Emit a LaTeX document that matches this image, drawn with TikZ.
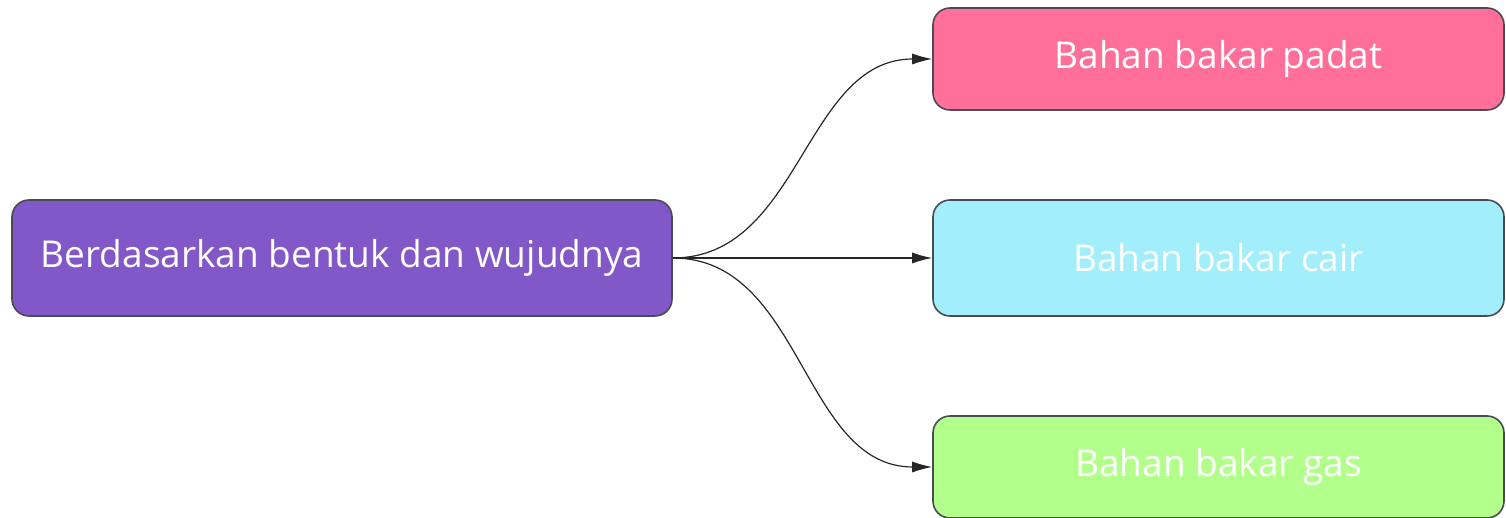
\documentclass[tikz,border=0pt]{standalone}
\usepackage{fontspec}
\setmainfont{Open Sans}
\usepackage{xcolor}
\usetikzlibrary{arrows.meta,positioning}
\definecolor{purplebox}{HTML}{8257C8}
\definecolor{pinkbox}{HTML}{FF6F9A}
\definecolor{bluebox}{HTML}{A2EEFB}
\definecolor{greenbox}{HTML}{B3FF8C}
\definecolor{edgegray}{HTML}{4A4A55}

\begin{document}
\begin{tikzpicture}[x=1pt,y=1pt,
    box/.style={draw=edgegray,line width=1.6pt,rounded corners=17pt,
      text=white,font=\fontsize{37}{44}\selectfont,inner sep=0pt},
    link/.style={-{Latex[length=20pt,width=11pt]},line width=1.2pt,black!85}]
    \useasboundingbox (0,0) rectangle (1506,518);
    \node[box,fill=purplebox,minimum width=660,minimum height=116] (kind) at (342, 260) {Berdasarkan bentuk dan wujudnya};
    \node[box,fill=pinkbox,minimum width=571,minimum height=102] (solid) at (1218.5, 459) {Bahan bakar padat};
    \node[box,fill=bluebox,minimum width=571,minimum height=116] (liquid) at (1218.5, 260) {Bahan bakar cair};
    \node[box,fill=greenbox,minimum width=571,minimum height=102] (gas) at (1218.5, 51) {Bahan bakar gas};
    \draw[link] (kind.east) to[out=0,in=180] (solid.west);
    \draw[link] (kind.east) -- (liquid.west);
    \draw[link] (kind.east) to[out=0,in=180] (gas.west);
\end{tikzpicture}
\end{document}
